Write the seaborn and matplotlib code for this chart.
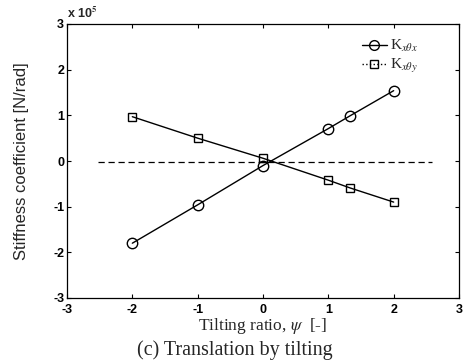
import matplotlib
matplotlib.use("Agg")
import matplotlib.pyplot as plt
from matplotlib.lines import Line2D
import seaborn as sns
import pandas as pd
import numpy as np

# tilting ratio psi [-]
psi = [-2, -1, 0, 1, 1.333, 2]
# stiffness coefficients, in units of 1e5 N/rad
k_x_theta_x = [-1.80, -0.96, -0.10, 0.71, 0.99, 1.54]
k_x_theta_y = [0.97, 0.50, 0.06, -0.42, -0.59, -0.90]
# reference line
ref_x = [-2.52, 2.58]
ref_y = [-0.03, -0.03]

x_ticks = [-3, -2, -1, 0, 1, 2, 3]
y_ticks = [-3, -2, -1, 0, 1, 2, 3]

sns.set_theme(style="ticks")
plt.rcParams["font.family"] = ["Liberation Sans", "DejaVu Sans"]
plt.rcParams["mathtext.fontset"] = "stix"

df = pd.DataFrame({"psi": psi, "kxx": k_x_theta_x, "kxy": k_x_theta_y})

fig = plt.figure(figsize=(4.63, 3.64), dpi=100)
ax = fig.add_axes([67 / 463, 1 - 298 / 364, (459 - 67) / 463, (298 - 24) / 364])

ax.plot(ref_x, ref_y, color="black", lw=0.9, dashes=(5, 3))
sns.lineplot(data=df, x="psi", y="kxx", ax=ax, color="black", lw=1.0,
             marker="o", markersize=7.5, markerfacecolor="none",
             markeredgecolor="black", markeredgewidth=1.0)
sns.lineplot(data=df, x="psi", y="kxy", ax=ax, color="black", lw=1.0,
             marker="s", markersize=5.5, markerfacecolor="none",
             markeredgecolor="black", markeredgewidth=1.0)

ax.set_xlim(-3, 3)
ax.set_ylim(-3, 3)
ax.set_xticks(x_ticks)
ax.set_yticks(y_ticks)
ax.set_xticklabels([str(t) for t in x_ticks], fontweight="bold", fontsize=9)
ax.set_yticklabels([str(t) for t in y_ticks], fontweight="bold", fontsize=9)
ax.tick_params(direction="in", top=True, right=True, length=3, width=0.8,
               pad=2, colors="black")
ax.tick_params(axis="x", pad=4)
for s in ax.spines.values():
    s.set_visible(True)
    s.set_color("black")
    s.set_linewidth(0.9)

ax.set_xlabel(r"Tilting ratio, $\psi$  [-]", family="Liberation Serif",
              fontsize=12.5, labelpad=0)
ax.set_ylabel("Stiffness coefficient [N/rad]", fontsize=12, labelpad=17)
ax.text(0.0, 1.01, r"x 10$^{\mathbf{5}}$", transform=ax.transAxes,
        fontsize=9, fontweight="bold", ha="left", va="bottom")
fig.text(235 / 463, 1 - 350 / 364, "(c) Translation by tilting",
         family="Liberation Serif", fontsize=14.5, ha="center", va="center")

handles = [
    Line2D([], [], color="black", lw=1.0, marker="o", markersize=7,
           markerfacecolor="none"),
    Line2D([], [], color="black", lw=1.0, ls=":", marker="s", markersize=5.5,
           markerfacecolor="none"),
]
labels = [r"K$_{x\theta x}$", r"K$_{x\theta y}$"]
ax.legend(handles, labels, loc="upper right", frameon=False,
          bbox_to_anchor=(0.91, 0.97), handlelength=1.6, handletextpad=0.2,
          borderaxespad=0.0, labelspacing=0.2,
          prop={"family": "Liberation Serif", "size": 11})

fig.savefig("out.png", dpi=100)
